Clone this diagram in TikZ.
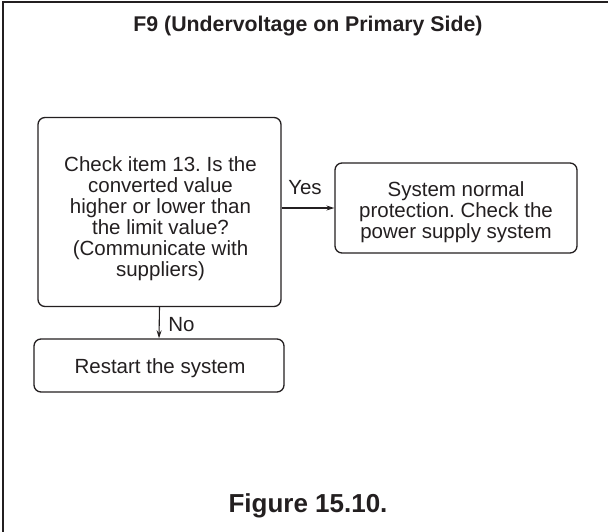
\documentclass[tikz,border=0pt]{standalone}
\usepackage{fontspec}
\setmainfont{Liberation Sans}
\usetikzlibrary{arrows.meta}
\definecolor{ink}{HTML}{231F20}
\frenchspacing
\begin{document}
\begin{tikzpicture}[x=1pt,y=-1pt,
  box/.style={draw=ink,line width=1.3pt,rounded corners=7pt,inner sep=0pt},
  btext/.style={align=center,font=\fontsize{20.5}{21}\selectfont,text=ink,inner sep=0pt},
  conn/.style={draw=ink,line width=1.1pt,-{Stealth[length=8pt,width=5pt]}},
  lbl/.style={font=\fontsize{20.5}{21}\selectfont,text=ink,inner sep=0pt}]
\useasboundingbox (0,0) rectangle (608,531);
\draw[ink,line width=2.4pt] (3,2) rectangle (640,560);
\node[font=\bfseries\fontsize{21.3}{24}\selectfont,text=ink,inner sep=0pt] (title) at (308,26.5) {F9 (Undervoltage on Primary Side)};
\node[box,minimum width=243pt,minimum height=189pt] (check) at (159.5,212) {};
\node[btext] (checktext) at (160.5,219) {Check item 13. Is the\\converted value\\higher or lower than\\the limit value?\\(Communicate with\\suppliers)};
\node[box,minimum width=242pt,minimum height=90pt] (sys) at (456,208) {};
\node[btext] (systext) at (456,212.5) {System normal\\protection. Check the\\power supply system};
\node[box,minimum width=250pt,minimum height=53pt] (restart) at (159,365.5) {};
\node[btext] (restarttext) at (160,368.5) {Restart the system};
\draw[conn] (check.east |- sys.west) -- (sys.west);
\node[lbl] (yes) at (305,188) {Yes};
\draw[conn] (check.south) -- (restart.north);
\node[lbl] (no) at (181.5,325) {No};
\node[font=\bfseries\fontsize{26}{30}\selectfont,text=ink,inner sep=0pt] (fig) at (308,506) {Figure 15.10.};
\end{tikzpicture}
\end{document}
